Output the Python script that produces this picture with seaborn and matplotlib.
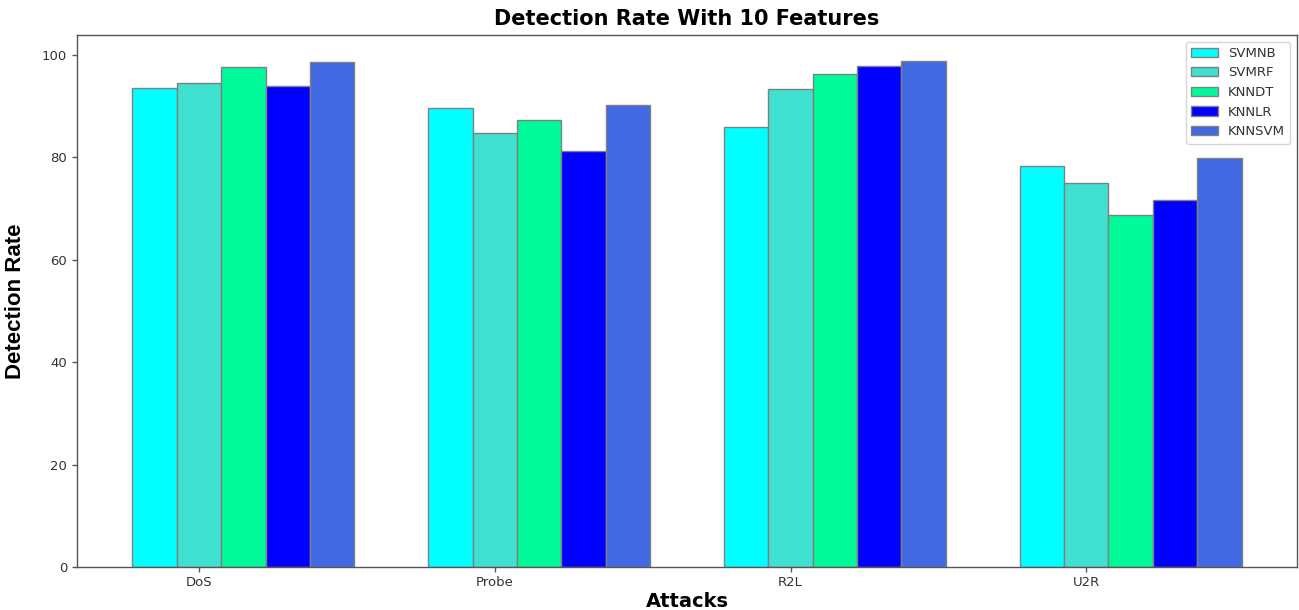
import numpy as np
import pandas as pd
import matplotlib
matplotlib.use("Agg")
import matplotlib.pyplot as plt
import seaborn as sns

# datos
attacks = ["DoS", "Probe", "R2L", "U2R"]
models = ["SVMNB", "SVMRF", "KNNDT", "KNNLR", "KNNSVM"]
svmnb = [93.5, 89.7, 85.9, 78.3]
svmrf = [94.5, 84.8, 93.3, 74.9]
knndt = [97.6, 87.3, 96.2, 68.7]
knnlr = [94.0, 81.3, 97.9, 71.7]
knnsvm = [98.6, 90.2, 98.8, 79.9]
colores = ["#00FFFF", "#40E0D0", "#00FA9A", "#0000FF", "#4169E1"]

series = [svmnb, svmrf, knndt, knnlr, knnsvm]
df = pd.DataFrame({
    "Attack": np.tile(attacks, len(models)),
    "Model": np.repeat(models, len(attacks)),
    "Rate": np.concatenate(series),
})

sns.set_style("ticks")
plt.rcParams["font.family"] = ["DejaVu Sans"]

fig = plt.figure(figsize=(12.99, 6.10), dpi=100)
ax = fig.add_axes([77 / 1299, 1 - 567 / 610, 1220 / 1299, 532 / 610])

sns.barplot(data=df, x="Attack", y="Rate", hue="Model", order=attacks,
            hue_order=models, palette=colores, width=0.75, saturation=1,
            edgecolor="grey", linewidth=1, errorbar=None, ax=ax)

# las etiquetas van en el centro de la segunda barra, como en el original
ax.set_xticks(np.arange(len(attacks)) - 0.15)
ax.set_xticklabels(attacks)
ax.set_xlim(-0.5625, 3.5625)
ax.set_ylim(0, 103.9)
ax.set_yticks([0, 20, 40, 60, 80, 100])

ax.tick_params(axis="both", labelsize=9.5, labelcolor="#333333",
               color="#555555", length=3.5, width=1)
ax.tick_params(axis="x", pad=3)
for s in ax.spines.values():
    s.set_color("#555555")
    s.set_linewidth(1)

ax.set_title("Detection Rate With 10 Features", fontsize=15, fontweight="bold",
             color="black", pad=7)
ax.set_xlabel("Attacks", fontsize=14, fontweight="bold", color="black")
ax.xaxis.set_label_coords(0.5, -0.047)
ax.xaxis.label.set_va("top")
ax.set_ylabel("Detection Rate", fontsize=16, fontweight="bold", color="black",
              family=["Liberation Sans", "DejaVu Sans"])
ax.yaxis.set_label_coords(-0.042, 0.5)

leg = ax.legend(loc="upper right", fontsize=9.5, frameon=True)
leg.set_title(None)
for t in leg.get_texts():
    t.set_color("#333333")

fig.savefig("out.png", dpi=100)
